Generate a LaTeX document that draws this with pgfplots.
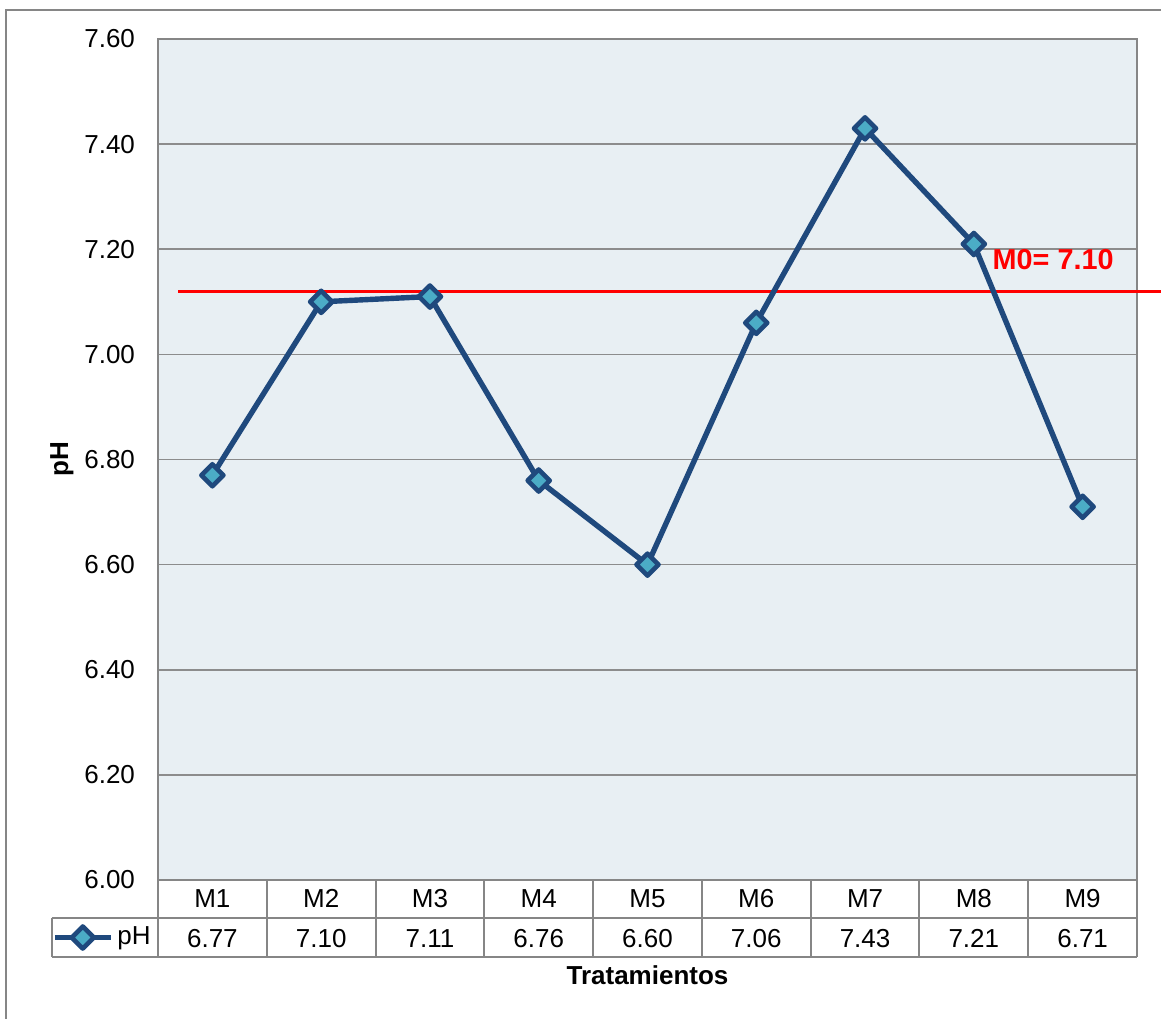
\documentclass[border=0pt]{standalone}
\usepackage{pgfplots}
\pgfplotsset{compat=1.18}
\usepackage{pgfplotstable}
\usepackage{fontspec}
\setmainfont{Liberation Sans}

\definecolor{phline}{RGB}{31,73,125}
\definecolor{phfill}{RGB}{75,172,198}
\definecolor{plotbg}{RGB}{232,239,243}
\definecolor{gridgray}{RGB}{140,140,140}
\definecolor{framegray}{RGB}{134,134,134}

\pgfplotstableread{
x name ph
1 M1 6.77
2 M2 7.10
3 M3 7.11
4 M4 6.76
5 M5 6.60
6 M6 7.06
7 M7 7.43
8 M8 7.21
9 M9 6.71
}\phdata

\begin{document}
\begin{tikzpicture}
\begin{axis}[
  scale only axis,
  width=489.5pt, height=420.5pt,
  xmin=0.5, xmax=9.5,
  ymin=6, ymax=7.6,
  clip=false,
  axis background/.style={fill=plotbg},
  axis line style={framegray, line width=0.8pt},
  ymajorgrids,
  grid style={gridgray, line width=0.8pt},
  major tick length=0pt,
  ytick={6,6.2,...,7.61},
  /pgf/number format/fixed,
  /pgf/number format/fixed zerofill,
  /pgf/number format/precision=2,
  /pgf/number format/assume math mode=true,
  yticklabel style={font=\fontsize{13}{15}\selectfont, xshift=-8pt},
  xtick={1,...,9},
  xticklabels from table={\phdata}{name},
  xticklabel style={font=\fontsize{13}{15}\selectfont, anchor=base, inner sep=0pt, yshift=-13.75pt},
  ylabel={\textbf{pH}},
  ylabel style={at={(rel axis cs:0,0.5)}, anchor=center, yshift=48pt, font=\fontsize{13}{15}\selectfont},
  xlabel={\textbf{Tratamientos}},
  xlabel style={at={(rel axis cs:0.5,0)}, anchor=center, yshift=-47.5pt, font=\fontsize{13}{15}\selectfont},
  legend style={at={(rel axis cs:0,0)}, anchor=east, xshift=-1.5pt, yshift=-28.75pt,
    draw=none, fill=none, inner sep=0pt, font=\fontsize{13}{15}\selectfont,
    legend cell align=left},
  legend image code/.code={\draw[mark repeat=2,mark phase=2] plot coordinates {(0cm,0cm) (0.49cm,0cm) (0.98cm,0cm)};},
]
% reference level M0
\addplot[red, line width=1.5pt, forget plot] coordinates {(0.684,7.12) (9.72,7.12)};
\node[red, anchor=west, font=\bfseries\fontsize{14.4}{16}\selectfont, inner sep=0pt]
  at (axis cs:8.17,7.181) {M0= 7.10};
% pH per treatment
\addplot[phline, line width=2.7pt, line join=round,
  mark=square*, mark size=3.9pt,
  mark options={rotate=45, fill=phfill, draw=phline, line width=2.3pt, line join=round}]
  table[x=x, y=ph] {\phdata};
\addlegendentry{pH}
\end{axis}
% data table grid
\begin{scope}[framegray, line width=1pt]
  \foreach \i in {0,...,9} \draw (\i*54.3889pt,0pt) -- (\i*54.3889pt,-38.5pt);
  \draw (-53pt,-19pt) -- (489.5pt,-19pt);
  \draw (-53pt,-38.5pt) -- (489.5pt,-38.5pt);
  \draw (-53pt,-19pt) -- (-53pt,-38.5pt);
\end{scope}
% value row of the data table
\pgfplotstableforeachcolumnelement{ph}\of\phdata\as\phval{%
  \node[font=\fontsize{13}{15}\selectfont, anchor=base, inner sep=0pt]
    at ({(\pgfplotstablerow+0.5)*54.3889pt}, -33.5pt) {\phval};
}
% outer frame
\draw[framegray, line width=0.8pt] (-76pt,-80pt) -- (-76pt,435pt) -- (510pt,435pt);
\pgfresetboundingbox
\path[use as bounding box] (-79pt,-69pt) rectangle (501.5pt,440pt);
\end{tikzpicture}
\end{document}
